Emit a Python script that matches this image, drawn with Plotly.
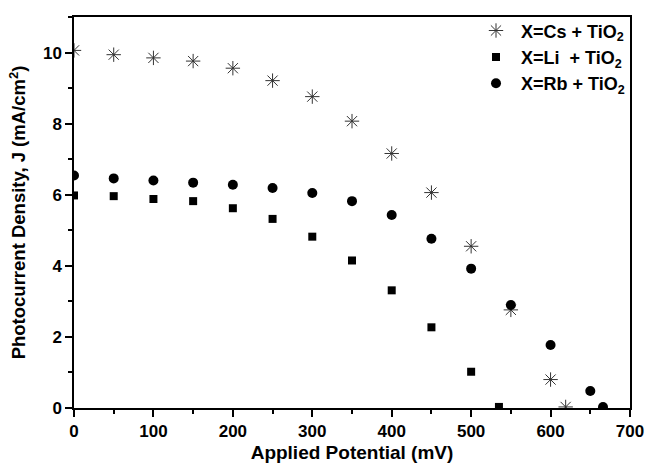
import plotly.graph_objects as go

potential_cs = [0, 50, 100, 150, 200, 250, 300, 350, 400, 450, 500, 550, 600, 619]
density_cs = [10.06, 9.94, 9.85, 9.76, 9.56, 9.21, 8.76, 8.07, 7.16, 6.06, 4.55, 2.76, 0.80, 0.03]

potential_li = [0, 50, 100, 150, 200, 250, 300, 350, 400, 450, 500, 535]
density_li = [5.98, 5.96, 5.88, 5.82, 5.62, 5.32, 4.82, 4.15, 3.31, 2.27, 1.02, 0.03]

potential_rb = [0, 50, 100, 150, 200, 250, 300, 350, 400, 450, 500, 550, 600, 650, 666]
density_rb = [6.54, 6.46, 6.40, 6.34, 6.28, 6.19, 6.05, 5.82, 5.43, 4.76, 3.92, 2.90, 1.77, 0.48, 0.03]

names = ["X=Cs + TiO<sub>2</sub>", "X=Li  + TiO<sub>2</sub>", "X=Rb + TiO<sub>2</sub>"]

FONT = "Arial, Liberation Sans, sans-serif"

fig = go.Figure()
fig.add_trace(go.Scatter(
    x=potential_cs, y=density_cs, mode="markers", name=names[0],
    marker=dict(symbol="asterisk-open", size=12, color="#333333",
                line=dict(width=1, color="#333333")),
))
fig.add_trace(go.Scatter(
    x=potential_li, y=density_li, mode="markers", name=names[1],
    marker=dict(symbol="square", size=8, color="black"),
))
fig.add_trace(go.Scatter(
    x=potential_rb, y=density_rb, mode="markers", name=names[2],
    marker=dict(symbol="circle", size=10, color="black"),
))

fig.update_layout(
    width=646, height=467,
    margin=dict(l=74, r=16, t=14, b=59),
    plot_bgcolor="white", paper_bgcolor="white",
    font=dict(family=FONT, color="black"),
    showlegend=True,
    legend=dict(
        x=1.0, y=1.012, xanchor="right", yanchor="top",
        bgcolor="rgba(0,0,0,0)",
        font=dict(family=FONT, size=18, color="black", weight="bold"),
        itemsizing="trace", tracegroupgap=0, itemwidth=40,
    ),
)

fig.update_xaxes(
    range=[0, 700], tickmode="linear", tick0=0, dtick=100,
    ticks="outside", ticklen=7, tickwidth=1.5, tickcolor="black",
    minor=dict(ticks="outside", ticklen=4, dtick=50, tickcolor="black", tickwidth=1.5),
    showline=True, linecolor="black", linewidth=1.5, mirror=True,
    showgrid=False, zeroline=False, automargin=False,
    tickfont=dict(family=FONT, size=17, color="black", weight="bold"),
    title=dict(text="Applied Potential (mV)",
               font=dict(family=FONT, size=19, color="black", weight="bold"),
               standoff=6),
)
fig.update_yaxes(
    range=[0, 11], tickmode="linear", tick0=0, dtick=2,
    ticks="outside", ticklen=7, tickwidth=1.5, tickcolor="black",
    minor=dict(ticks="outside", ticklen=4, dtick=1, tickcolor="black", tickwidth=1.5),
    showline=True, linecolor="black", linewidth=1.5, mirror=True,
    showgrid=False, zeroline=False, automargin=False,
    tickfont=dict(family=FONT, size=17, color="black", weight="bold"),
    title=dict(text="Photocurrent Density, J (mA/cm<sup>2</sup>)",
               font=dict(family=FONT, size=18.5, color="black", weight="bold"),
               standoff=12),
)

fig.write_html("out.html", config={"displayModeBar": False},
               post_script="document.body.style.margin='0';")
